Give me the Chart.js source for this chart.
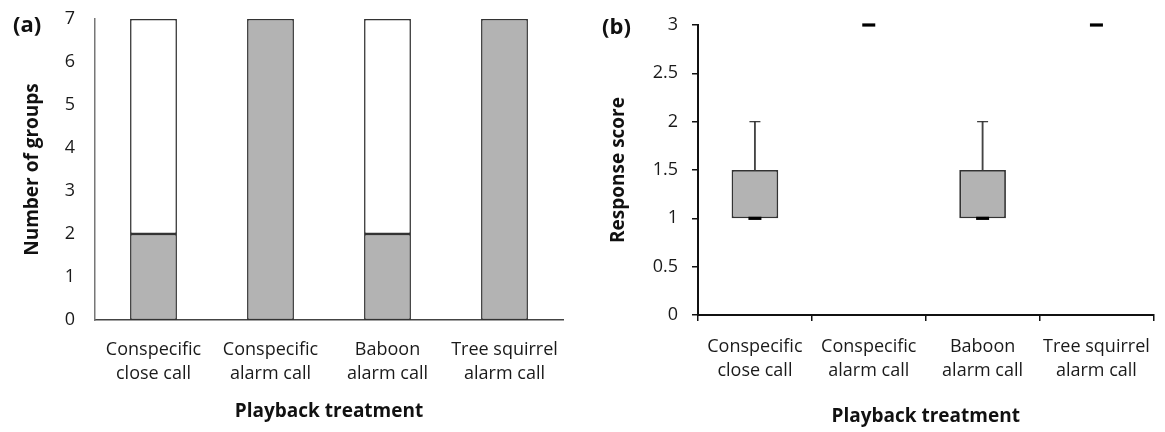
<!doctype html>
<html>
<head>
  <script src="https://cdn.jsdelivr.net/npm/chart.js@4/dist/chart.umd.min.js"></script>
  <style>
    body { margin: 0; background: #fff; width: 1165px; height: 432px; position: relative; overflow: hidden; font-family: 'Open Sans', sans-serif; }
    .panel { position: absolute; top: 0; }
    .tag { position: absolute; font-weight: bold; font-size: 22px; color: #111; line-height: 1; }
  </style>
</head>
<body>
  <div class="panel" style="left:0"><canvas id="chartA" width="580" height="432"></canvas></div>
  <div class="panel" style="left:580px"><canvas id="chartB" width="585" height="432"></canvas></div>
  <div class="tag" style="left:13px;top:12px">(a)</div>
  <div class="tag" style="left:602px;top:14px">(b)</div>
  <script>
    // categories shared by both panels
    const treatments = [
      ['Conspecific', 'close call'],
      ['Conspecific', 'alarm call'],
      ['Baboon', 'alarm call'],
      ['Tree squirrel', 'alarm call']
    ];

    // panel (a): number of groups responding / not responding
    const respondedGroups = [2, 7, 2, 7];
    const notRespondedGroups = [5, 0, 5, 0];
    const yTicksA = ['0', '1', '2', '3', '4', '5', '6', '7'];

    // panel (b): response score box plot
    const boxRange = [[1, 1.5], null, [1, 1.5], null];   // lower / upper quartile
    const whiskerRange = [[1.5, 2], null, [1.5, 2], null];
    const whiskerMax = [2, null, 2, null];
    const medianScore = [1, 3, 1, 3];
    const yTicksB = ['0', '0.5', '1', '1.5', '2', '2.5', '3'];

    const tickFont = { family: 'Open Sans', size: 18, lineHeight: 1.33 };
    const titleFont = { family: 'Open Sans', size: 19, weight: 'bold' };
    const ink = '#1a1a1a';

    Chart.defaults.font.family = 'Open Sans';
    Chart.defaults.color = ink;

    // fixed axis box, no extra padding pushed onto the chart area
    function fixWidth(w) {
      return (s) => { s.width = w; s.paddingTop = 0; s.paddingBottom = 0; };
    }

    new Chart(document.getElementById('chartA'), {
      type: 'bar',
      data: {
        labels: treatments,
        datasets: [{
          label: 'Responded',
          data: respondedGroups,
          backgroundColor: '#b3b3b3',
          borderColor: '#333',
          borderWidth: 1.5,
          borderSkipped: false
        }, {
          label: 'Did not respond',
          data: notRespondedGroups,
          backgroundColor: '#fff',
          borderColor: '#333',
          borderWidth: 1.5,
          borderSkipped: false
        }]
      },
      options: {
        responsive: false,
        animation: false,
        devicePixelRatio: 1,
        layout: { padding: { top: 19, right: 17, left: 0, bottom: 0 } },
        datasets: { bar: { barPercentage: 0.4, categoryPercentage: 1 } },
        plugins: { legend: { display: false }, tooltip: { enabled: false } },
        scales: {
          x: {
            stacked: true,
            grid: { display: false, drawTicks: false },
            border: { display: true, color: '#444', width: 1.5 },
            ticks: { font: tickFont, color: ink, padding: 18, maxRotation: 0, autoSkip: false },
            title: { display: true, text: 'Playback treatment', font: titleFont, color: '#111', padding: { top: 0, bottom: 9 } },
            afterFit: (s) => { s.height = 112; }
          },
          y: {
            stacked: true,
            min: 0,
            max: 7,
            grid: { display: false, drawTicks: false },
            border: { display: true, color: '#777', width: 1.5 },
            ticks: { stepSize: 1, font: tickFont, color: ink, padding: 20, callback: (v, i) => yTicksA[i] },
            title: { display: true, text: 'Number of groups', font: titleFont, color: '#111', padding: { top: 21, bottom: 0 } },
            afterFit: fixWidth(95)
          }
        }
      }
    });

    new Chart(document.getElementById('chartB'), {
      type: 'bar',
      data: {
        labels: treatments,
        datasets: [{
          type: 'line',
          label: 'Median',
          data: medianScore,
          showLine: false,
          pointStyle: 'line',
          pointRadius: 6.5,
          pointBorderWidth: 3.2,
          pointBorderColor: '#000',
          clip: false,
          order: 0
        }, {
          type: 'line',
          label: 'Maximum',
          data: whiskerMax,
          showLine: false,
          pointStyle: 'line',
          pointRadius: 5.5,
          pointBorderWidth: 1.2,
          pointBorderColor: '#333',
          clip: false,
          order: 1
        }, {
          label: 'Whisker',
          data: whiskerRange,
          backgroundColor: '#444',
          borderWidth: 0,
          barThickness: 1.2,
          grouped: false,
          order: 2
        }, {
          label: 'Quartiles',
          data: boxRange,
          backgroundColor: '#b3b3b3',
          borderColor: '#333',
          borderWidth: 1.8,
          borderSkipped: false,
          barPercentage: 0.41,
          categoryPercentage: 1,
          grouped: false,
          order: 3
        }]
      },
      options: {
        responsive: false,
        animation: false,
        devicePixelRatio: 1,
        layout: { padding: { top: 25, right: 5, left: 0, bottom: 0 } },
        plugins: { legend: { display: false }, tooltip: { enabled: false } },
        scales: {
          x: {
            offset: true,
            grid: { display: true, offset: true, drawOnChartArea: false, drawTicks: true, tickLength: 6, color: '#111', lineWidth: 1.5 },
            border: { display: true, color: '#111', width: 2 },
            ticks: { font: tickFont, color: ink, padding: 14, maxRotation: 0, autoSkip: false },
            title: { display: true, text: 'Playback treatment', font: titleFont, color: '#111', padding: { top: 0, bottom: 4 } },
            afterFit: (s) => { s.height = 117; }
          },
          y: {
            min: 0,
            max: 3,
            grid: { display: true, drawOnChartArea: false, drawTicks: true, tickLength: 6, color: '#111', lineWidth: 1.5 },
            border: { display: true, color: '#111', width: 2 },
            ticks: { stepSize: 0.5, font: tickFont, color: ink, padding: 14, callback: (v, i) => yTicksB[i] },
            title: { display: true, text: 'Response score', font: titleFont, color: '#111', padding: { top: 27, bottom: 0 } },
            afterFit: fixWidth(118)
          }
        }
      }
    });
  </script>
</body>
</html>
